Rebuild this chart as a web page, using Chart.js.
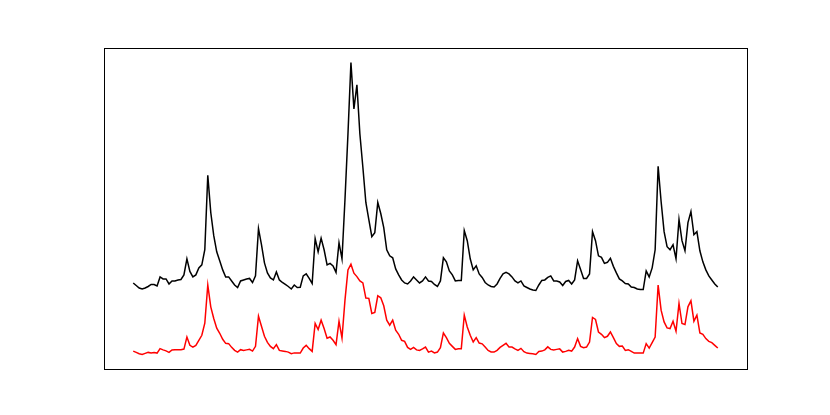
<!DOCTYPE html>
<html lang="en">
<head>
  <meta charset="UTF-8" />
  <title>Two series</title>
  <script src="https://cdn.jsdelivr.net/npm/chart.js"></script>
  <style>
    body {
      margin: 0;
      padding: 0;
      background: #ffffff;
    }
  </style>
</head>
<body>
  <canvas id="chart" width="830" height="415"></canvas>

  <script>
    // values (arbitrary units, no axis labels in the original)
    const upperSeries = [
      86, 83.5, 81, 80, 81, 82.5, 84.5, 84.5, 83, 92,
      90, 90, 85, 88, 88, 89, 89.5, 94, 110, 97.5,
      92, 94, 101, 104, 119, 193, 156, 133, 117, 108,
      99, 92, 92, 88, 84, 81.5, 88, 89, 90, 90.5,
      86.5, 93, 140, 124, 106, 96, 91, 89, 97, 89,
      86.5, 84.5, 82.5, 80, 84, 81.5, 81.7, 93, 95, 90.5,
      85.5, 130, 117, 130.5, 119, 104, 105.5, 103, 96.5, 126,
      110, 169, 234, 305, 259, 283, 234, 201, 166, 149,
      132, 136, 166, 155, 141, 119, 113, 111, 100, 94,
      89, 86, 85, 88, 92, 89, 86, 88, 92, 88,
      87.5, 84.5, 82.5, 88, 111, 107, 98, 94, 88, 88.5,
      88.5, 138, 128, 110, 99, 103, 95, 91.5, 86.5, 84,
      82.5, 82, 85, 90.5, 95, 96.5, 95, 92, 88, 86,
      88, 83, 81.5, 80, 79, 78.5, 84, 88.5, 89, 91.5,
      93, 88, 88, 87, 83.5, 87.5, 88.5, 85, 89, 108,
      99.5, 90.5, 90.5, 95, 137, 128, 113, 111.5, 105.5, 106.5,
      110.5, 102.5, 96, 90, 88, 85.5, 85, 82, 81.5, 80,
      79.5, 79.5, 98, 92, 101, 119, 202, 167, 137, 122,
      119, 124, 110, 149, 128, 118, 146, 157, 134, 137,
      118, 107, 99, 93, 89, 85, 82
    ];

    const lowerSeries = [
      18.3, 17, 15.7, 15, 16, 17, 16.3, 17, 16.3, 20.7,
      19.5, 18.5, 17, 19.5, 19.7, 19.7, 19.7, 20.3, 32.3, 24,
      22.3, 24, 29, 34, 46, 84, 62.3, 50.7, 41, 36,
      30, 26, 25.7, 22, 19, 17.3, 19.7, 19, 19.5, 20,
      18.3, 23, 53, 43, 33, 27, 23, 20.7, 24.7, 19,
      18.5, 18, 17.3, 15.7, 16.5, 16.3, 16.3, 21.3, 24, 20.7,
      18, 45.7, 39.7, 49, 40.7, 31, 32.3, 29, 24.7, 48,
      31.3, 69, 99, 104.7, 95.7, 92.3, 88, 86, 71, 70.7,
      55.7, 56.7, 73.3, 71.3, 63.3, 49, 44, 49, 39, 35,
      29, 28, 22, 20, 22, 19.5, 19, 20.5, 22.3, 17.3,
      18.3, 16.5, 17.3, 21.7, 36.3, 31.7, 26, 23, 20, 20.7,
      20.7, 54, 42.3, 34, 27.3, 31.7, 26.3, 25.5, 22.3, 19,
      17.5, 17.3, 19, 22, 24, 26, 22.3, 22.3, 20.5, 19,
      21, 17.7, 16.3, 16, 15.7, 15, 18, 18.3, 19.5, 22.5,
      20, 19.5, 20, 20.5, 17.3, 18, 19, 18.3, 22.3, 30.7,
      23, 21.7, 22.3, 27.3, 51.7, 49.7, 37.3, 35, 31.7, 33,
      37.3, 31.7, 25.7, 23, 23.3, 19, 19.7, 18, 16.3, 16.3,
      16.3, 16.3, 25.7, 21.3, 26.7, 32.3, 84, 59, 47.3, 41.3,
      40.7, 48, 38, 65.7, 45.7, 44.7, 62.3, 68.3, 48, 54,
      36.3, 35, 30.7, 28, 26.7, 24, 21.3
    ];

    const n = upperSeries.length;
    const toPoints = arr => arr.map((v, i) => ({ x: i, y: v }));

    // matplotlib-like autoscale: 5% margin on both axes
    const all = upperSeries.concat(lowerSeries);
    const yMin = Math.min(...all);
    const yMax = Math.max(...all);
    const ySpan = yMax - yMin;
    const xSpan = n - 1;

    const frame = {
      id: "frame",
      afterDraw(chart) {
        const a = chart.chartArea;
        const c = chart.ctx;
        c.save();
        c.strokeStyle = "#000000";
        c.lineWidth = 1;
        c.strokeRect(Math.round(a.left) + 0.5, Math.round(a.top) + 0.5,
          Math.round(a.right - a.left), Math.round(a.bottom - a.top));
        c.restore();
      }
    };

    new Chart(document.getElementById("chart").getContext("2d"), {
      type: "line",
      data: {
        datasets: [
          {
            data: toPoints(upperSeries),
            borderColor: "#000000",
            borderWidth: 1.5,
            pointRadius: 0,
            tension: 0,
            fill: false,
          },
          {
            data: toPoints(lowerSeries),
            borderColor: "#ff0000",
            borderWidth: 1.5,
            pointRadius: 0,
            tension: 0,
            fill: false,
          },
        ],
      },
      options: {
        responsive: false,
        devicePixelRatio: 1,
        animation: false,
        layout: {
          padding: { left: 104, right: 83, top: 48, bottom: 46 },
        },
        plugins: {
          legend: { display: false },
          tooltip: { enabled: false },
        },
        scales: {
          x: {
            type: "linear",
            display: false,
            min: -0.05 * xSpan,
            max: xSpan * 1.05,
          },
          y: {
            display: false,
            min: yMin - 0.05 * ySpan,
            max: yMax + 0.05 * ySpan,
          },
        },
      },
      plugins: [frame],
    });
  </script>
</body>
</html>
